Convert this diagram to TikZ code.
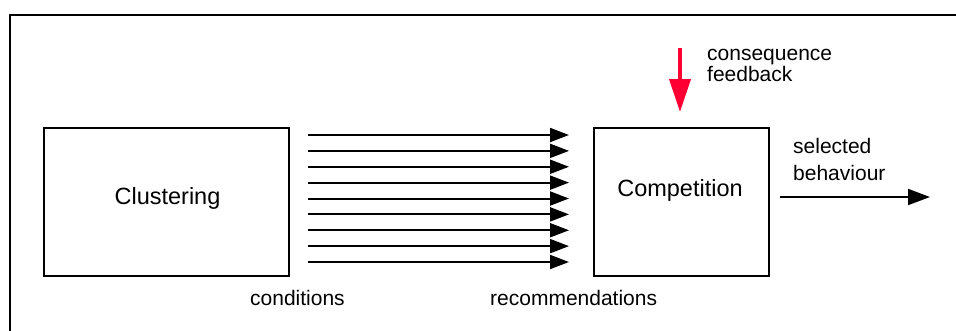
\documentclass[tikz,border=0pt]{standalone}
\usepackage{fontspec}
\setmainfont{Liberation Sans}
\usetikzlibrary{arrows.meta}
\definecolor{fbred}{HTML}{FF0033}
\begin{document}
\begin{tikzpicture}[x=1pt,y=-1pt,
  box/.style={draw, line width=2pt, inner sep=0pt, minimum height=148pt},
  bigtxt/.style={font=\fontsize{23.5}{28}\selectfont, inner sep=0pt, anchor=base},
  smalltxt/.style={font=\fontsize{21}{21}\selectfont, inner sep=0pt, anchor=base west},
  flow/.style={line width=2pt, -{Triangle[length=19pt,width=14pt]}},
  outflow/.style={line width=2pt, -{Triangle[length=22pt,width=16pt]}},
  fbarrow/.style={fbred, line width=4pt, -{Triangle[length=33pt,width=21pt]}}]
\useasboundingbox (0,0) rectangle (956,330);
% frame
\draw[line width=2pt] (10,331) -- (10,15) -- (957,15);
% boxes
\node[box, minimum width=245pt] (clust) at (166.5,202) {};
\node[box, minimum width=175pt] (comp) at (681.5,202) {};
\node[bigtxt] (clusttxt) at (167.5,204) {Clustering};
\node[bigtxt] (comptxt) at (680,196) {Competition};
% parallel arrows
\foreach \i in {0,...,8} {
  \coordinate (s\i) at (308,{135+\i*15.875});
  \coordinate (e\i) at (569,{135+\i*15.875});
  \draw[flow] (s\i) -- (e\i);
}
% feedback arrow
\coordinate (fbtop) at (680,48);
\coordinate (fbtip) at (680,112);
\draw[fbarrow] (fbtop) -- (fbtip);
% output arrow
\coordinate (outs) at (780,197);
\coordinate (oute) at (930,197);
\draw[outflow] (outs) -- (oute);
% labels
\node[smalltxt] (fb) at (707,60) {\vtop{\baselineskip=21pt\hbox{consequence}\hbox{feedback}}};
\node[smalltxt] (sel) at (793,153) {\vtop{\baselineskip=27pt\hbox{selected}\hbox{behaviour}}};
\node[smalltxt] (cond) at (250,305) {conditions};
\node[smalltxt] (rec) at (490,305) {recommendations};
\end{tikzpicture}
\end{document}
